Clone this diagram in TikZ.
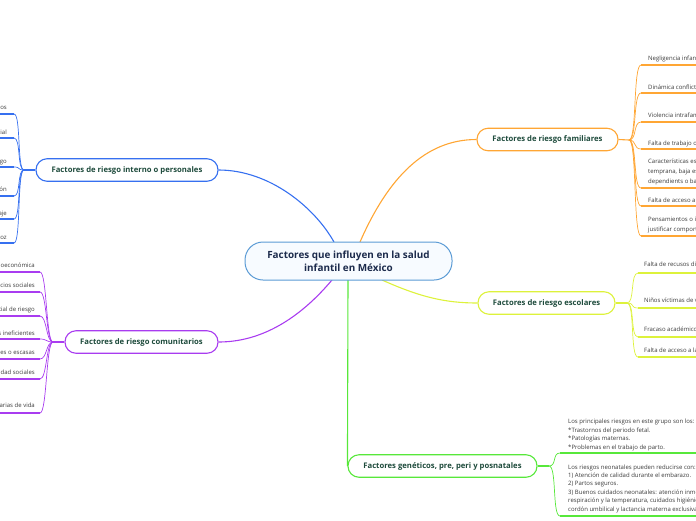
\documentclass[tikz,border=0pt]{standalone}
\usepackage{fontspec}
\setmainfont{Open Sans}
\usetikzlibrary{backgrounds}
\definecolor{cmain}{HTML}{5B9BD5}
\definecolor{cmainfill}{HTML}{F7FBFF}
\definecolor{cmaintext}{HTML}{1C2B4C}
\definecolor{cbrtext}{HTML}{1E4B3C}
\definecolor{cleaf}{HTML}{3A3A3A}
\definecolor{cor}{HTML}{FFA634}
\definecolor{cyel}{HTML}{DDF23B}
\definecolor{cblu}{HTML}{3670F0}
\definecolor{cpur}{HTML}{A93CF0}
\definecolor{cgrn}{HTML}{57E83A}
\begin{document}
\begin{tikzpicture}[x=1pt,y=-1pt,
  mainnode/.style={draw=cmain, line width=1pt, fill=cmainfill, rounded corners=18pt,
    minimum width=207pt, minimum height=38pt, inner sep=0pt, align=center,
    font=\bfseries\fontsize{9.9}{12.8}\selectfont, text=cmaintext},
  branch/.style={fill=white, line width=1.1pt, rounded corners=11pt, minimum height=22.5pt,
    inner sep=0pt, font=\bfseries\fontsize{7.7}{9}\selectfont, text=cbrtext},
  leaf/.style={inner sep=0pt, align=left, text=cleaf, font=\fontsize{6}{9.6}\selectfont},
  leafg/.style={leaf, font=\fontsize{6}{8.4}\selectfont},
  leafr/.style={inner sep=0pt, align=right, text=cleaf, font=\fontsize{6}{9.6}\selectfont},
  ul/.style={line width=1.5pt},
  conn/.style={line width=0.7pt},
  trunk/.style={line width=1.1pt}]
\useasboundingbox (0,0) rectangle (696,520);
\clip (0,0) rectangle (696,520);

% ---------- main and branch nodes ----------
\node[mainnode] (main) at (348.5,261) {Factores que influyen en la salud\\infantil en México};
\node[branch, draw=cor, minimum width=141pt] (fam) at (547.5,139.5) {Factores de riesgo familiares};
\node[branch, draw=cyel, minimum width=137pt] (esc) at (546.5,303) {Factores de riesgo escolares};
\node[branch, draw=cblu, minimum width=182pt] (int) at (127,170) {Factores de riesgo interno o personales};
\node[branch, draw=cpur, minimum width=153pt] (com) at (141.5,342) {Factores de riesgo comunitarios};
\node[branch, draw=cgrn, minimum width=189pt] (gen) at (442.5,466) {Factores genéticos, pre, peri y posnatales};

% ---------- connectors from the centre ----------
\coordinate (mT1) at (334,242);
\coordinate (mT2) at (360,242);
\coordinate (mB1) at (332,280);
\coordinate (mB2) at (348,280);
\coordinate (mB3) at (382,280);
\begin{scope}[on background layer]
\draw[trunk,cblu] (mT1) .. controls (315,208) and (270,170) .. (int.east);
\draw[trunk,cor] (mT2) .. controls (388,178) and (425,139.5) .. (fam.west);
\draw[trunk,cyel] (mB3) .. controls (420,297) and (445,303) .. (esc.west);
\draw[trunk,cpur] (mB1) .. controls (300,318) and (262,342) .. (com.east);
\draw[trunk,cgrn] (mB2) -- (gen.west);
\end{scope}

% ---------- familiares ----------
\coordinate (famJ) at (629,140);
\draw[trunk,cor] (fam.east) -- (famJ);
\foreach \i/\y in {1/65,2/93,3/122,4/149,5/188,6/206,7/236}{
  \coordinate (famU\i) at (641,\y);
  \draw[conn,cor] (famJ) .. controls +(8,0) and +(-8,0) .. (famU\i);
  \draw[ul,cor] (famU\i) -- +(70,0);
}
\node[leaf, anchor=base west] (fam1) at (648,60) {Negligencia infantil};
\node[leaf, anchor=base west] (fam2) at (648,89) {Dinámica conflictiva};
\node[leaf, anchor=base west] (fam3) at (648,117) {Violencia intrafamiliar};
\node[leaf, anchor=base west] (fam4) at (648,145) {Falta de trabajo o empleo};
\node[leaf, anchor=base west] (fam5) at (648,183) {Características específicas\\temprana, baja escolaridad\\dependients o bajos};
\node[leaf, anchor=base west] (fam6) at (648,202) {Falta de acceso a servicios};
\node[leaf, anchor=base west] (fam7) at (648,231) {Pensamientos o ideas para\\justificar comportamientos};

% ---------- escolares ----------
\coordinate (escJ) at (627,303);
\draw[trunk,cyel] (esc.east) -- (escJ);
\foreach \i/\y in {1/273,2/308,3/337,4/357}{
  \coordinate (escU\i) at (638,\y);
  \draw[conn,cyel] (escJ) .. controls +(8,0) and +(-8,0) .. (escU\i);
  \draw[ul,cyel] (escU\i) -- +(70,0);
}
\node[leaf, anchor=base west] (esc1) at (644,266) {Falta de recusos didácticos};
\node[leaf, anchor=base west] (esc2) at (644,302) {Niños víctimas de violencia};
\node[leaf, anchor=base west] (esc3) at (644,331) {Fracaso académico};
\node[leaf, anchor=base west] (esc4) at (644,352) {Falta de acceso a la educación};

% ---------- genéticos ----------
\coordinate (genJ) at (549,466);
\draw[trunk,cgrn] (gen.east) -- (genJ);
\foreach \i/\y in {1/453,2/516}{
  \coordinate (genU\i) at (560,\y);
  \draw[conn,cgrn] (genJ) .. controls +(8,0) and +(-8,0) .. (genU\i);
  \draw[ul,cgrn] (genU\i) -- +(150,0);
}
\node[leafg, anchor=base west] (gen1) at (568,449) {Los principales riesgos en este grupo son los: siguientes\\*Trastornos del periodo fetal.\\*Patologías maternas.\\*Problemas en el trabajo de parto.};
\node[leafg, anchor=base west] (gen2) at (568,511) {Los riesgos neonatales pueden reducirse con:\\1) Atención de calidad durante el embarazo.\\2) Partos seguros.\\3) Buenos cuidados neonatales: atención inmediata,\\respiración y la temperatura, cuidados higiénicos del\\cordón umbilical y lactancia materna exclusiva.};

% ---------- interno o personales ----------
\coordinate (intJ) at (24,170);
\draw[trunk,cblu] (int.west) -- (intJ);
\foreach \i/\y in {1/114,2/138,3/167,4/196,5/219,6/243}{
  \coordinate (intU\i) at (14,\y);
  \draw[conn,cblu] (intJ) .. controls +(-7,0) and +(7,0) .. (intU\i);
  \draw[ul,cblu] (intU\i) -- +(-70,0);
}
\node[leafr, anchor=base east] (int1) at (7,109) {Trastornos psicológicos};
\node[leafr, anchor=base east] (int2) at (7,134) {Conducta antisocial};
\node[leafr, anchor=base east] (int3) at (7,163) {Conductas de riesgo};
\node[leafr, anchor=base east] (int4) at (7,191) {Baja autoestima y frustración};
\node[leafr, anchor=base east] (int5) at (7,215) {Problemas de aprendizaje};
\node[leafr, anchor=base east] (int6) at (7,239) {Embarazo precoz};

% ---------- comunitarios ----------
\coordinate (comJ) at (53,342);
\draw[trunk,cpur] (com.west) -- (comJ);
\foreach \i/\y in {1/272,2/292,3/316,4/339,5/359,6/379,7/413}{
  \coordinate (comU\i) at (40,\y);
  \draw[conn,cpur] (comJ) .. controls +(-7,0) and +(7,0) .. (comU\i);
  \draw[ul,cpur] (comU\i) -- +(-70,0);
}
\node[leafr, anchor=base east] (com1) at (35,267) {Pobreza y situación socioeconómica};
\node[leafr, anchor=base east] (com2) at (35,287) {Falta de servicios sociales};
\node[leafr, anchor=base east] (com3) at (35,311) {Ambiente social de riesgo};
\node[leafr, anchor=base east] (com4) at (35,335) {Servicios ineficientes};
\node[leafr, anchor=base east] (com5) at (35,354) {Redes de apoyo débiles o escasas};
\node[leafr, anchor=base east] (com6) at (35,374) {Falta de solidaridad sociales};
\node[leafr, anchor=base east] (com7) at (35,407) {Condiciones precarias de vida};
\end{tikzpicture}
\end{document}
